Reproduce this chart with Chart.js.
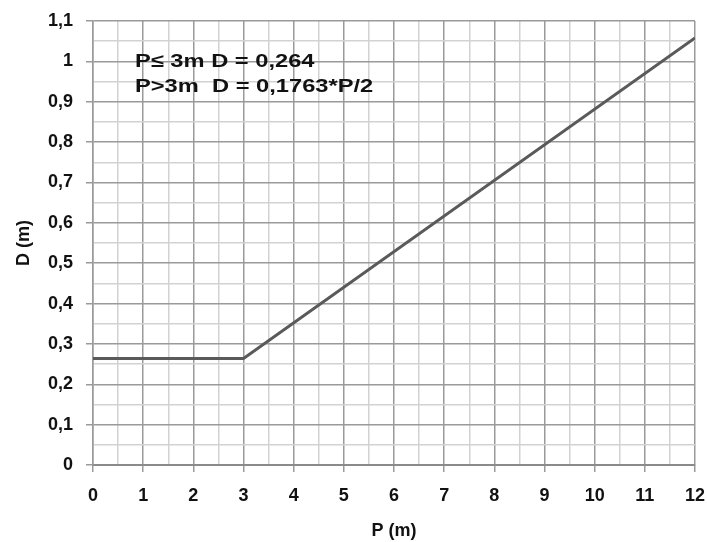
<!DOCTYPE html>
<html>
<head>
<meta charset="utf-8">
<script src="https://cdn.jsdelivr.net/npm/chart.js@4/dist/chart.umd.min.js"></script>
<style>
  html, body { margin: 0; padding: 0; background: #fff; }
  #wrap { width: 707px; height: 542px; position: relative; }
</style>
</head>
<body>
<div id="wrap"><canvas id="c" width="707" height="542"></canvas></div>
<script>
// Data
const pValues = [0, 3, 12];
const dValues = [0.264, 0.264, 1.058];
const xTitle = 'P (m)';
const yTitle = 'D (m)';
const noteLines = ['P\u2264 3m D = 0,264', 'P>3m  D = 0,1763*P/2'];

const points = pValues.map((p, i) => ({ x: p, y: dValues[i] }));

const isMajorX = v => Math.abs(v - Math.round(v)) < 1e-6;
const isMajorY = v => Math.abs(v * 10 - Math.round(v * 10)) < 1e-6;
const MAJOR = '#9a9a9a';
const MINOR = '#d2d2d2';
const FONT = { family: '"Liberation Sans", Arial, sans-serif', size: 18, weight: 'bold' };

const notePlugin = {
  id: 'note',
  afterDatasetsDraw(chart) {
    const ctx = chart.ctx;
    ctx.save();
    ctx.translate(135, 0);
    ctx.scale(1.28, 1);
    ctx.font = 'bold 18.5px "Liberation Sans", Arial, sans-serif';
    ctx.fillStyle = '#111';
    ctx.textBaseline = 'middle';
    ctx.textAlign = 'left';
    ctx.fillText(noteLines[0], 0, 62);
    ctx.fillText(noteLines[1], 0, 87);
    ctx.restore();
  }
};

new Chart(document.getElementById('c'), {
  type: 'scatter',
  data: {
    datasets: [{
      data: points,
      showLine: true,
      borderColor: '#5a5a5a',
      borderWidth: 3,
      pointRadius: 0,
      fill: false,
      tension: 0
    }]
  },
  options: {
    responsive: false,
    animation: false,
    layout: { padding: { top: 21, right: 12, left: 0, bottom: 0 } },
    plugins: { legend: { display: false }, tooltip: { enabled: false } },
    scales: {
      x: {
        type: 'linear',
        min: 0, max: 12,
        afterFit: s => { s.height = 77; s.paddingRight = 0; s.paddingLeft = 0; },
        border: { display: true, color: '#8a8a8a', width: 2 },
        grid: {
          color: ctx => isMajorX(ctx.tick.value) ? MAJOR : MINOR,
          tickColor: ctx => isMajorX(ctx.tick.value) ? MAJOR : 'rgba(0,0,0,0)',
          tickLength: 7,
          lineWidth: 1.5
        },
        ticks: {
          stepSize: 0.5,
          autoSkip: false,
          maxRotation: 0,
          padding: 13,
          color: '#111',
          font: FONT,
          callback: v => isMajorX(v) ? String(Math.round(v)) : ''
        },
        title: { display: true, text: xTitle, color: '#111', font: FONT, padding: { top: 0, bottom: 0 } }
      },
      y: {
        type: 'linear',
        min: 0, max: 1.1,
        afterFit: s => { s.width = 93; s.paddingTop = 0; s.paddingBottom = 0; },
        border: { display: true, color: MAJOR, width: 1.5 },
        grid: {
          color: ctx => isMajorY(ctx.tick.value) ? MAJOR : MINOR,
          tickColor: ctx => isMajorY(ctx.tick.value) ? MAJOR : 'rgba(0,0,0,0)',
          tickLength: 7,
          lineWidth: 1.5
        },
        ticks: {
          stepSize: 0.05,
          autoSkip: false,
          padding: 13,
          color: '#111',
          font: FONT,
          callback: v => isMajorY(v) ? String(Math.round(v * 10) / 10).replace('.', ',') : ''
        },
        title: { display: true, text: yTitle, color: '#111', font: FONT, padding: { top: 13, bottom: 0 } }
      }
    }
  },
  plugins: [notePlugin]
});
</script>
</body>
</html>
